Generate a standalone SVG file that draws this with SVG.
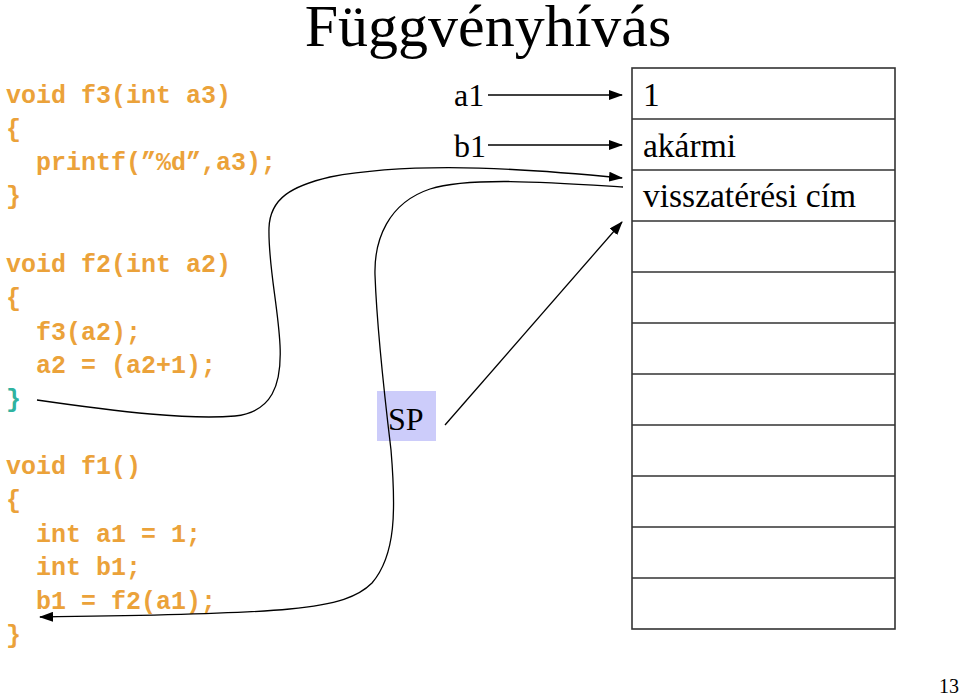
<svg xmlns="http://www.w3.org/2000/svg" width="960" height="696" viewBox="0 0 960 696">
<style>
.code{font-family:"Liberation Mono","Courier New",monospace;font-weight:bold;font-size:25px;fill:#EBA23A}
.teal{fill:#2FB3A0}
.tm{font-family:"Liberation Serif","Times New Roman",serif;fill:#000}
.cell{fill:#fff;stroke:#333;stroke-width:1.6}
.conn{fill:none;stroke:#000;stroke-width:1.3}
</style>
<defs>
<marker id="ah" viewBox="0 0 14 10" refX="13" refY="5" markerWidth="14" markerHeight="10" markerUnits="userSpaceOnUse" orient="auto">
<path d="M0,0 L14,5 L0,10 z" fill="#000"/>
</marker>
</defs>
<rect width="960" height="696" fill="#fff"/>
<text class="tm" x="488" y="46" font-size="60" text-anchor="middle">Függvényhívás</text>
<g id="code-f3">
<text class="code" x="6" y="103">void f3(int a3)</text>
<text class="code" x="6" y="137">{</text>
<text class="code" x="36" y="170">printf(”%d”,a3);</text>
<text class="code" x="6" y="204">}</text>
</g>
<g id="code-f2">
<text class="code" x="6" y="272">void f2(int a2)</text>
<text class="code" x="6" y="306">{</text>
<text class="code" x="36" y="340">f3(a2);</text>
<text class="code" x="36" y="373">a2 = (a2+1);</text>
<text class="code teal" x="6" y="407">}</text>
</g>
<g id="code-f1">
<text class="code" x="6" y="474">void f1()</text>
<text class="code" x="6" y="508">{</text>
<text class="code" x="36" y="542">int a1 = 1;</text>
<text class="code" x="36" y="575">int b1;</text>
<text class="code" x="36" y="609">b1 = f2(a1);</text>
<text class="code" x="6" y="643">}</text>
</g>
<g id="stack">
<rect class="cell" x="632" y="68" width="263" height="561"/>
<path d="M632,119H895M632,170H895M632,221H895M632,272H895M632,323H895M632,374H895M632,425H895M632,476H895M632,527H895M632,578H895" stroke="#333" stroke-width="1.6"/>
<text class="tm" x="643" y="106" font-size="33.5">1</text>
<text class="tm" x="643" y="157" font-size="33.5">akármi</text>
<text class="tm" x="643" y="207" font-size="33.5">visszatérési cím</text>
</g>
<g id="label-a1"><text class="tm" x="454" y="106" font-size="32">a1</text></g>
<g id="label-b1"><text class="tm" x="454" y="157" font-size="32">b1</text></g>
<g id="sp">
<rect x="377" y="391" width="59" height="50" fill="#CCCCFA"/>
<text class="tm" x="388" y="430" font-size="32">SP</text>
</g>
<g id="connectors">
<path class="conn" d="M488,95H622" marker-end="url(#ah)"/>
<path class="conn" d="M488,145H622" marker-end="url(#ah)"/>
<path class="conn" d="M445,425L622,222" marker-end="url(#ah)"/>
<path class="conn" d="M37,400 C120,412 190,420 235,416 C272,412 282,385 280,345 C278,305 268,265 269,228 C270,198 292,186 330,177 C420,160 540,170 622,178" marker-end="url(#ah)"/>
<path class="conn" d="M623,187 C560,183 470,176 430,189 C388,203 374,240 375,275 C377,330 385,400 391,450 C396,510 396,555 372,583 C345,610 290,614 40,617" marker-end="url(#ah)"/>
</g>
<text class="tm" x="939" y="693" font-size="20">13</text>
</svg>
